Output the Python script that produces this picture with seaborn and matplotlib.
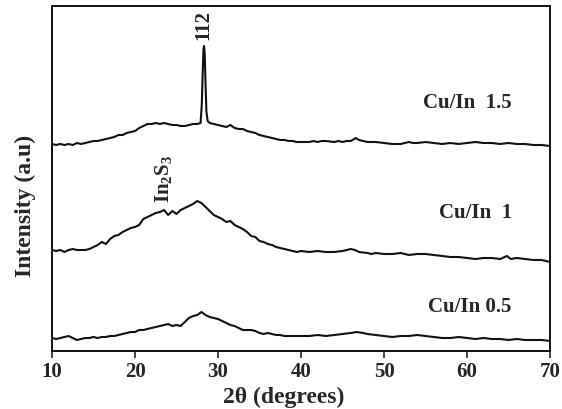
import matplotlib
matplotlib.use("Agg")
import matplotlib.pyplot as plt
import seaborn as sns
import pandas as pd

# --- XRD patterns (2-theta in degrees, intensity in arbitrary units, stacked) ---
two_theta_15 = [10, 10.5, 11, 11.5, 12, 12.5, 13, 13.5, 14, 14.5, 15, 15.5, 16, 16.5, 17, 17.5,
                18, 18.5, 19, 19.5, 20, 20.5, 21, 21.5, 22, 22.5, 23, 23.5, 24, 24.5, 25, 25.5,
                26, 26.5, 27, 27.5, 27.9, 28.05, 28.15, 28.25, 28.32, 28.4, 28.5, 28.6, 28.75,
                29, 29.5, 30, 30.5, 31, 31.5, 32, 32.5, 33, 33.5, 34, 34.5, 35, 35.5, 36, 36.5,
                37, 37.5, 38, 38.5, 39, 39.5, 40, 41, 41.5, 42, 42.5, 43, 44, 44.5, 45, 45.5,
                46, 46.6, 47, 47.5, 48, 49, 50, 51, 52, 52.5, 53, 53.5, 54, 55, 56, 57, 58, 59,
                60, 61, 62, 63, 64, 65, 66, 67, 68, 69, 70]
intensity_15 = [207, 206, 207, 206, 207, 206, 208, 207, 208, 209, 210, 210, 211, 212, 213, 214,
                216, 216, 218, 219, 220, 223, 225, 227, 227, 228, 227, 228, 227, 226, 226, 225,
                225, 226, 227, 227, 228, 247, 277, 302, 305, 297, 267, 240, 230,
                228, 227, 226, 225, 224, 226, 223, 222, 222, 220, 219, 218, 216, 215, 214, 213,
                212, 211, 211, 210, 210, 209, 209, 209, 210, 209, 210, 210, 209, 210, 209, 210,
                210, 213, 211, 210, 209, 209, 208, 207, 207, 208, 209, 208, 208, 209, 208, 207,
                208, 207, 208, 209, 208, 208, 207, 208, 207, 207, 206, 206, 205]

two_theta_10 = [10, 10.5, 11, 11.5, 12, 12.5, 13, 13.5, 14, 14.5, 15, 15.5, 16, 16.5, 17, 17.5,
                18, 18.5, 19, 19.5, 20, 20.5, 21, 21.5, 22, 22.5, 23, 23.5, 24, 24.5, 25, 25.5,
                26, 26.5, 27, 27.5, 28, 28.5, 29, 29.5, 30, 30.5, 31, 31.5, 32, 32.5, 33, 33.5,
                34, 34.5, 35, 35.5, 36, 36.5, 37, 37.5, 38, 38.5, 39, 39.5, 40, 41, 42, 43, 44,
                45, 45.5, 46, 46.5, 47, 48, 48.5, 49, 50, 51, 52, 53, 54, 55, 56, 57, 58, 59, 60,
                61, 62, 63, 64, 64.8, 65.3, 66, 67, 68, 69, 70]
intensity_10 = [101, 100, 101, 99, 101, 102, 101, 101, 101, 102, 104, 106, 109, 107, 112, 115,
                116, 119, 121, 123, 124, 126, 132, 134, 136, 138, 139, 141, 136, 140, 137, 141,
                143, 145, 147, 150, 148, 144, 140, 136, 134, 132, 129, 130, 126, 124, 122, 119,
                115, 114, 110, 109, 107, 106, 104, 103, 102, 101, 100, 99, 100, 99, 100, 99, 99,
                100, 101, 102, 101, 99, 98, 97, 98, 97, 97, 98, 96, 97, 97, 96, 95, 94, 94, 93,
                92, 93, 93, 92, 95, 92, 93, 92, 91, 91, 89]

two_theta_05 = [10, 10.5, 11, 11.5, 12, 12.5, 13, 13.5, 14, 14.5, 15, 15.5, 16, 16.5, 17, 17.5,
                18, 18.5, 19, 19.5, 20, 20.5, 21, 21.5, 22, 22.5, 23, 23.5, 24, 24.5, 25, 25.5,
                26, 26.5, 27, 27.5, 28, 28.5, 29, 29.5, 30, 30.5, 31, 31.5, 32, 32.5, 33, 33.5,
                34, 34.5, 35, 35.5, 36, 36.5, 37, 37.5, 38, 39, 40, 41, 42, 43, 44, 45, 46, 46.7,
                47.5, 48, 49, 50, 51, 52, 53, 54, 55, 56, 57, 58, 59, 60, 61, 62, 63, 64, 65, 66,
                67, 68, 69, 70]
intensity_05 = [13, 12, 13, 14, 15, 13, 11, 12, 13, 13, 14, 13, 14, 14, 15, 15,
                16, 17, 18, 19, 19, 21, 21, 22, 23, 24, 25, 26, 27, 25, 26, 25,
                29, 33, 35, 36, 39, 36, 34, 33, 32, 30, 28, 26, 25, 23, 21, 21,
                21, 20, 18, 17, 18, 17, 16, 16, 15, 15, 15, 15, 16, 15, 16, 17, 18, 19,
                18, 17, 16, 15, 14, 15, 15, 16, 15, 14, 13, 13, 14, 13, 12, 13, 12, 12, 11, 12,
                11, 11, 11, 10]

sample_labels = ["Cu/In  1.5", "Cu/In  1", "Cu/In 0.5"]
x_ticks = [10, 20, 30, 40, 50, 60, 70]

series = [
    (two_theta_15, intensity_15),
    (two_theta_10, intensity_10),
    (two_theta_05, intensity_05),
]

frames = []
for label, (tt, inten) in zip(sample_labels, series):
    frames.append(pd.DataFrame({"two_theta": tt, "intensity": inten, "sample": label}))
data = pd.concat(frames, ignore_index=True)

sns.set_style("white")
plt.rcParams["font.family"] = ["Liberation Serif", "DejaVu Serif"]
plt.rcParams["font.weight"] = "bold"
plt.rcParams["mathtext.fontset"] = "custom"
plt.rcParams["mathtext.rm"] = "Liberation Serif:bold"
plt.rcParams["mathtext.bf"] = "Liberation Serif:bold"
plt.rcParams["mathtext.it"] = "Liberation Serif:bold:italic"

FS = 15
FS_LABEL = 17

fig = plt.figure(figsize=(5.62, 4.10), dpi=100)
ax = fig.add_axes([52 / 562, 1 - 352 / 410, 498 / 562, 345 / 410])

sns.lineplot(data=data, x="two_theta", y="intensity", units="sample", estimator=None,
             sort=False, color="#111111", linewidth=1.5, ax=ax)

ax.set_xlim(10, 70)
ax.set_ylim(0, 345)
ax.set_xticks(x_ticks)
ax.set_xticklabels([str(t) for t in x_ticks], fontsize=FS, fontweight="bold")
ax.set_yticks([])
ax.tick_params(axis="x", direction="out", length=5, width=1.2, pad=2, bottom=True)

for side in ["left", "right", "top", "bottom"]:
    ax.spines[side].set_visible(True)
    ax.spines[side].set_linewidth(1.4)
    ax.spines[side].set_color("#111111")

ax.set_xlabel("2\u03b8 (degrees)", fontsize=FS_LABEL, fontweight="bold")
ax.set_ylabel("Intensity (a.u)", fontsize=FS_LABEL, fontweight="bold")
ax.yaxis.set_label_coords(-0.032, 0.423)
ax.xaxis.set_label_coords(0.466, -0.133)
ax.xaxis.label.set_verticalalignment("center")

# sample labels on the right
label_y = [249, 139, 45]
for label, y in zip(sample_labels, label_y):
    ax.text(65.4, y, label, fontsize=FS, fontweight="bold", ha="right", va="center")

# reflection annotations
ax.text(28.25, 312, "112", rotation=90, fontsize=FS, fontweight="bold",
        ha="center", va="bottom")
ax.text(23.4, 149, r"$\mathbf{In_2S_3}$", rotation=90, fontsize=FS,
        ha="center", va="bottom")

fig.savefig("out.png", dpi=100)
